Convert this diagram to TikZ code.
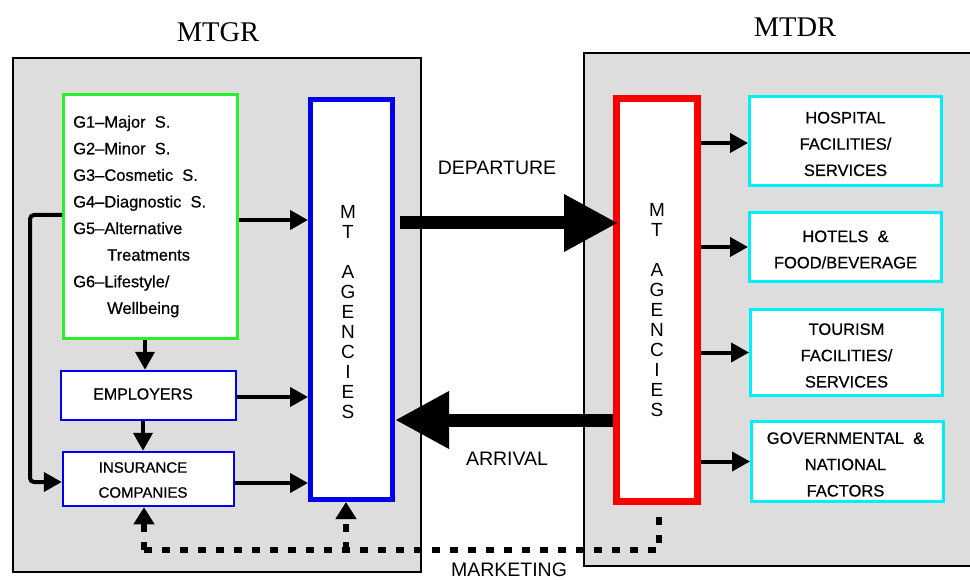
\documentclass[tikz,border=0pt]{standalone}
\usepackage{fontspec}
\setmainfont{Liberation Sans}
\newfontfamily\titlefont{Liberation Serif}
\newfontfamily\boxfont{Liberation Sans}[FakeBold=0.6]
\usetikzlibrary{arrows.meta}
\definecolor{bgray}{RGB}{221,221,221}
\definecolor{gline}{RGB}{40,240,40}
\definecolor{bline}{RGB}{0,0,235}
\definecolor{rline}{RGB}{250,0,0}
\definecolor{cline}{RGB}{0,240,250}
\begin{document}
\begin{tikzpicture}[x=1pt,y=-1pt,
  region/.style={fill=bgray,inner sep=0pt},
  whitebox/.style={fill=white,inner sep=0pt},
  boxtext/.style={inner sep=0pt,align=center,font=\boxfont\fontsize{16.5}{26.3}\selectfont},
  title/.style={font=\titlefont\fontsize{28.5}{32}\selectfont,inner sep=0pt},
  flowlabel/.style={font=\fontsize{19.5}{22}\selectfont,inner sep=0pt},
  vletters/.style={font=\fontsize{19}{20}\selectfont,align=center,inner sep=0pt,anchor=north},
  arr/.style={line width=4pt,-{Triangle[length=18pt,width=19pt]}},
  bigarr/.style={line width=13pt,-{Triangle[length=54pt,width=54pt]}},
  mkline/.style={line width=6pt,dash pattern=on 8pt off 10pt},
  mkarr/.style={mkline,-{Triangle[length=17pt,width=20pt]}}
]
\useasboundingbox (0,0) rectangle (970,580);
\fill[white] (0,0) rectangle (970,580);

% regions
\node[region,draw=black,line width=2pt,minimum width=408pt,minimum height=514pt] (mtgr) at (217,315) {};
\node[region,minimum width=388pt,minimum height=513pt] (mtdr) at (778,309.5) {};
\draw[line width=2pt] (mtdr.north east) -- (mtdr.north west) -- (mtdr.south west) -- (mtdr.south east);

% titles
\node[title] (tgr) at (218,32) {MTGR};
\node[title] (tdr) at (795,27) {MTDR};

% left boxes
\node[whitebox,draw=gline,line width=3pt,minimum width=174pt,minimum height=244pt] (g) at (150.5,216.5) {};
\node[anchor=north west,inner sep=0pt,align=left,font=\boxfont\fontsize{16.5}{26.6}\selectfont] (gtext) at (73,115.5)
 {G1–Major\ \ S.\\G2–Minor\ \ S.\\G3–Cosmetic\ \ S.\\G4–Diagnostic\ \ S.\\G5–Alternative\\\hspace*{34pt}Treatments\\G6–Lifestyle/\\\hspace*{34pt}Wellbeing};
\node[whitebox,draw=bline,line width=5pt,minimum width=82pt,minimum height=400pt] (mt) at (351.5,299.5) {};
\node[vletters] (mttext) at (348,205) {M\\T\\[20pt]A\\G\\E\\N\\C\\I\\E\\S};
\node[whitebox,draw=bline,line width=2.5pt,minimum width=175pt,minimum height=49pt] (emp) at (148.5,395.5) {};
\node[boxtext,font=\boxfont\fontsize{16}{26}\selectfont] (emptext) at (143,394) {EMPLOYERS};
\node[whitebox,draw=bline,line width=2.5pt,minimum width=171pt,minimum height=54pt] (ins) at (148.5,479) {};
\node[boxtext,font=\boxfont\fontsize{15}{25}\selectfont] (instext) at (143,480) {INSURANCE\\COMPANIES};

% right boxes
\node[whitebox,draw=rline,line width=7pt,minimum width=81pt,minimum height=403pt] (rd) at (657,300) {};
\node[vletters] (rdtext) at (657,203) {M\\T\\[20pt]A\\G\\E\\N\\C\\I\\E\\S};
\node[whitebox,draw=cline,line width=3pt,minimum width=192pt,minimum height=89pt] (hosp) at (845.5,141) {};
\node[whitebox,draw=cline,line width=3pt,minimum width=192pt,minimum height=69pt] (hot) at (845.5,247) {};
\node[whitebox,draw=cline,line width=3pt,minimum width=192pt,minimum height=86pt] (tour) at (846.5,352.5) {};
\node[whitebox,draw=cline,line width=3pt,minimum width=192pt,minimum height=80pt] (gov) at (847.5,461.5) {};
\node[boxtext] (hosptext) at ([yshift=-3pt]hosp.center) {HOSPITAL\\FACILITIES/\\SERVICES};
\node[boxtext] (hottext) at ([yshift=-2.5pt]hot.center) {HOTELS\ \ \&\\FOOD/BEVERAGE};
\node[boxtext] (tourtext) at ([yshift=-3pt]tour.center) {TOURISM\\FACILITIES/\\SERVICES};
\node[boxtext] (govtext) at ([yshift=-3pt,xshift=-2pt]gov.center) {GOVERNMENTAL\ \ \&\\NATIONAL\\FACTORS};

% left arrows
\draw[arr] ([yshift=-3.5pt]g.east) -- ([yshift=-3.5pt]g.east -| mt.west);
\draw[arr] ([yshift=-1.5pt]emp.east) -- ([yshift=-1.5pt]emp.east -| mt.west);
\draw[arr] ([yshift=-4pt]ins.east) -- ([yshift=-4pt]ins.east -| mt.west);
\draw[arr] ([xshift=-5.5pt]g.south) -- ([xshift=-5.5pt]g.south |- emp.north);
\draw[arr] ([xshift=-5.5pt]emp.south) -- ([xshift=-5.5pt]emp.south |- ins.north);
\draw[arr,rounded corners=4pt] ([yshift=1.5pt]g.west) -- ++(-32,0) |- ([yshift=-3pt]ins.west);

% big arrows
\draw[bigarr] ([yshift=76.5pt,xshift=5pt]mt.east) -- ([yshift=76.5pt,xshift=5pt]mt.east -| rd.west);
\draw[bigarr] ([yshift=-120pt]rd.west) -- ([yshift=-120pt]rd.west -| mt.east);
\node[flowlabel] (dep) at (497,168) {DEPARTURE};
\node[flowlabel] (arr) at (507,459) {ARRIVAL};

% right arrows
\draw[arr] ([yshift=-2pt]hosp.west -| rd.east) -- ([yshift=-2pt]hosp.west);
\draw[arr] (hot.west -| rd.east) -- (hot.west);
\draw[arr] (tour.west -| rd.east) -- (tour.west);
\draw[arr] (gov.west -| rd.east) -- (gov.west);

% marketing
\coordinate (mk) at (659,550);
\draw[mkline] ([xshift=2pt,yshift=-12pt]rd.south) -- (mk) -- ([xshift=-4.5pt]ins.south |- mk);
\draw[mkarr] ([xshift=-4.5pt]ins.south |- mk) -- ([xshift=-4.5pt]ins.south);
\draw[mkarr] ([xshift=-5.5pt]mt.south |- mk) -- ([xshift=-5.5pt]mt.south);
\node[flowlabel] (mktext) at (509,569.5) {MARKETING};
\end{tikzpicture}
\end{document}
